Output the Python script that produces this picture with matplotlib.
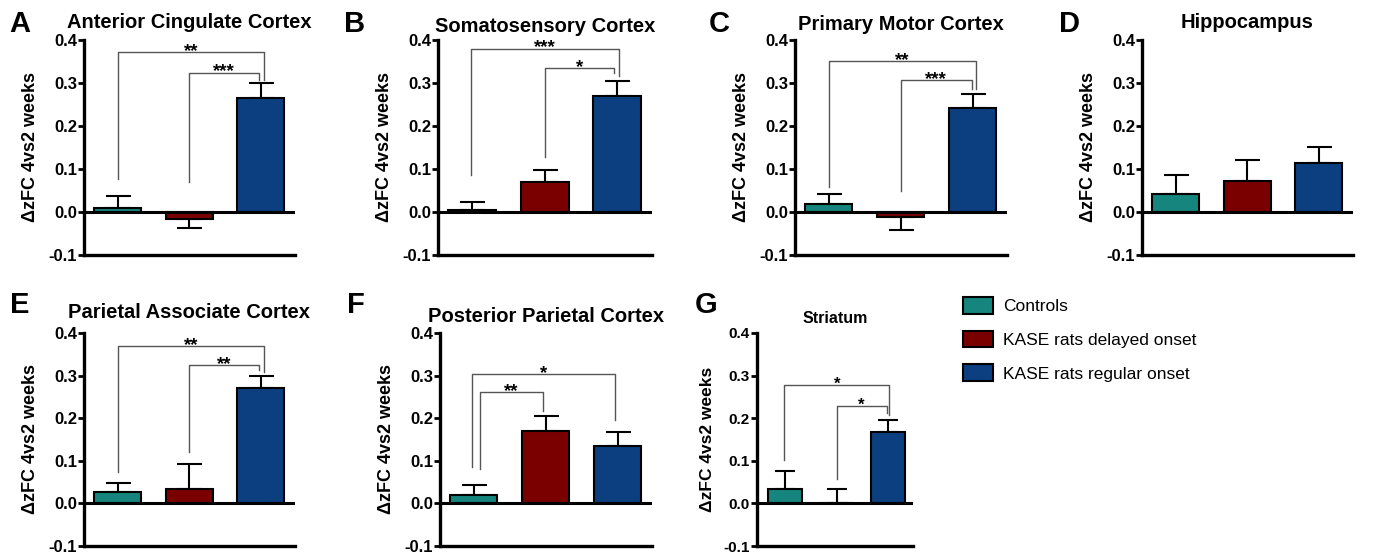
import matplotlib
matplotlib.use("Agg")
import matplotlib.pyplot as plt
from matplotlib.patches import Patch

plt.rcParams['font.family'] = ['Liberation Sans', 'DejaVu Sans']

# data
letters = ['A', 'B', 'C', 'D', 'E', 'F', 'G']
regions = ['Anterior Cingulate Cortex', 'Somatosensory Cortex', 'Primary Motor Cortex',
           'Hippocampus', 'Parietal Associate Cortex', 'Posterior Parietal Cortex', 'Striatum']
groups = ['Controls', 'KASE rats delayed onset', 'KASE rats regular onset']
colors = ['#15857d', '#7a0000', '#0c3f80']

ctrl_mean = [0.010, 0.005, 0.019, 0.042, 0.027, 0.020, 0.034]
ctrl_err = [0.027, 0.018, 0.024, 0.044, 0.021, 0.023, 0.041]
delayed_mean = [-0.017, 0.069, -0.012, 0.072, 0.034, 0.169, 0.0]
delayed_err = [0.020, 0.029, 0.029, 0.048, 0.058, 0.035, 0.034]
regular_mean = [0.266, 0.270, 0.242, 0.113, 0.270, 0.135, 0.167]
regular_err = [0.034, 0.035, 0.032, 0.039, 0.030, 0.032, 0.029]

# significance brackets: x1, x2, bracket height, left end, right end, label
brackets = [
    [(0.01, 2.045, 0.371, 0.076, 0.306, '**'), (1.0, 1.975, 0.324, 0.069, 0.306, '***')],
    [(-0.02, 2.03, 0.380, 0.086, 0.317, '***'), (1.0, 1.955, 0.334, 0.128, 0.324, '*')],
    [(0.0, 2.045, 0.351, 0.057, 0.285, '**'), (1.0, 1.99, 0.306, 0.049, 0.287, '***')],
    [],
    [(0.0, 2.045, 0.370, 0.074, 0.309, '**'), (1.0, 1.98, 0.324, 0.121, 0.3125, '**')],
    [(-0.03, 1.96, 0.304, 0.086, 0.196, '*'), (0.08, 0.96, 0.261, 0.080, 0.218, '**')],
    [(-0.015, 2.02, 0.278, 0.103, 0.208, '*'), (1.0, 1.97, 0.229, 0.058, 0.212, '*')],
]

W, H = 1376, 556
fig = plt.figure(figsize=(W / 100, H / 100), dpi=100)

# layout in pixels
cols = [(84, 295), (438, 652), (795, 1007), (1142, 1353), (84, 295), (440, 652), (757, 913)]
rows = [(40, 255)] * 4 + [(333, 546)] * 3
title_y = [28, 32, 30, 28, 318, 322, 323]
letter_xy = [(9, 32), (344, 32), (709, 32), (1059, 32), (10, 313), (347, 313), (695, 313)]

for k in range(7):
    x0, x1 = cols[k]
    t, b = rows[k]
    ax = fig.add_axes([x0 / W, 1 - b / H, (x1 - x0) / W, (b - t) / H])
    small = (k == 6)
    means = [ctrl_mean[k], delayed_mean[k], regular_mean[k]]
    errs = [ctrl_err[k], delayed_err[k], regular_err[k]]
    xs = [0, 1, 2]
    ax.bar(xs, means, width=0.66, color=colors, edgecolor='black', linewidth=1.5, zorder=3)
    for x, m, e in zip(xs, means, errs):
        yerr = [[0], [e]] if m >= 0 else [[e], [0]]
        ax.errorbar([x], [m], yerr=yerr, fmt='none', ecolor='black', elinewidth=1.5,
                    capsize=7 if small else 9, capthick=1.5, zorder=2)
    ax.axhline(0, color='black', lw=2.2, zorder=4)
    for (bx1, bx2, by, yl, yr, lab) in brackets[k]:
        ax.plot([bx1, bx1, bx2, bx2], [yl, by, by, yr], color='#555555', lw=1, zorder=1)
        ax.text((bx1 + bx2) / 2, by - 0.009, lab, ha='center', va='baseline',
                fontsize=12 if small else 13.5, fontweight='bold')
    ax.set_ylim(-0.1, 0.4)
    ax.set_xlim(-0.54 if small else -0.47, 2.48)
    ax.set_yticks([-0.1, 0.0, 0.1, 0.2, 0.3, 0.4])
    ax.set_yticklabels(['-0.1', '0.0', '0.1', '0.2', '0.3', '0.4'])
    ax.set_xticks([])
    for s in ['top', 'right']:
        ax.spines[s].set_visible(False)
    for s in ['left', 'bottom']:
        ax.spines[s].set_linewidth(2.4)
    ax.tick_params(axis='y', length=4, width=2, pad=1, labelsize=11 if small else 12)
    for lbl in ax.get_yticklabels():
        lbl.set_fontweight('bold')
    ax.set_ylabel('\u0394zFC 4vs2 weeks', fontsize=12.5 if small else 13, fontweight='bold',
                  labelpad=6 if small else 7)
    cx = (x0 + x1) / 2
    fig.text(cx / W, 1 - title_y[k] / H, regions[k], ha='center', va='baseline',
             fontsize=11.5 if small else 14.5, fontweight='bold')
    lx, ly = letter_xy[k]
    fig.text(lx / W, 1 - ly / H, letters[k], ha='left', va='baseline', fontsize=21, fontweight='bold')

handles = [Patch(facecolor=c, edgecolor='black', linewidth=1.5) for c in colors]
fig.legend(handles, groups, loc='upper left', bbox_to_anchor=(963 / W, 1 - 297 / H),
           frameon=False, handlelength=1.75, handleheight=1.1,
           labelspacing=0.95, handletextpad=0.55, borderpad=0, borderaxespad=0,
           prop={'family': 'Liberation Sans', 'size': 12.5})

fig.savefig('out.png', dpi=100)
